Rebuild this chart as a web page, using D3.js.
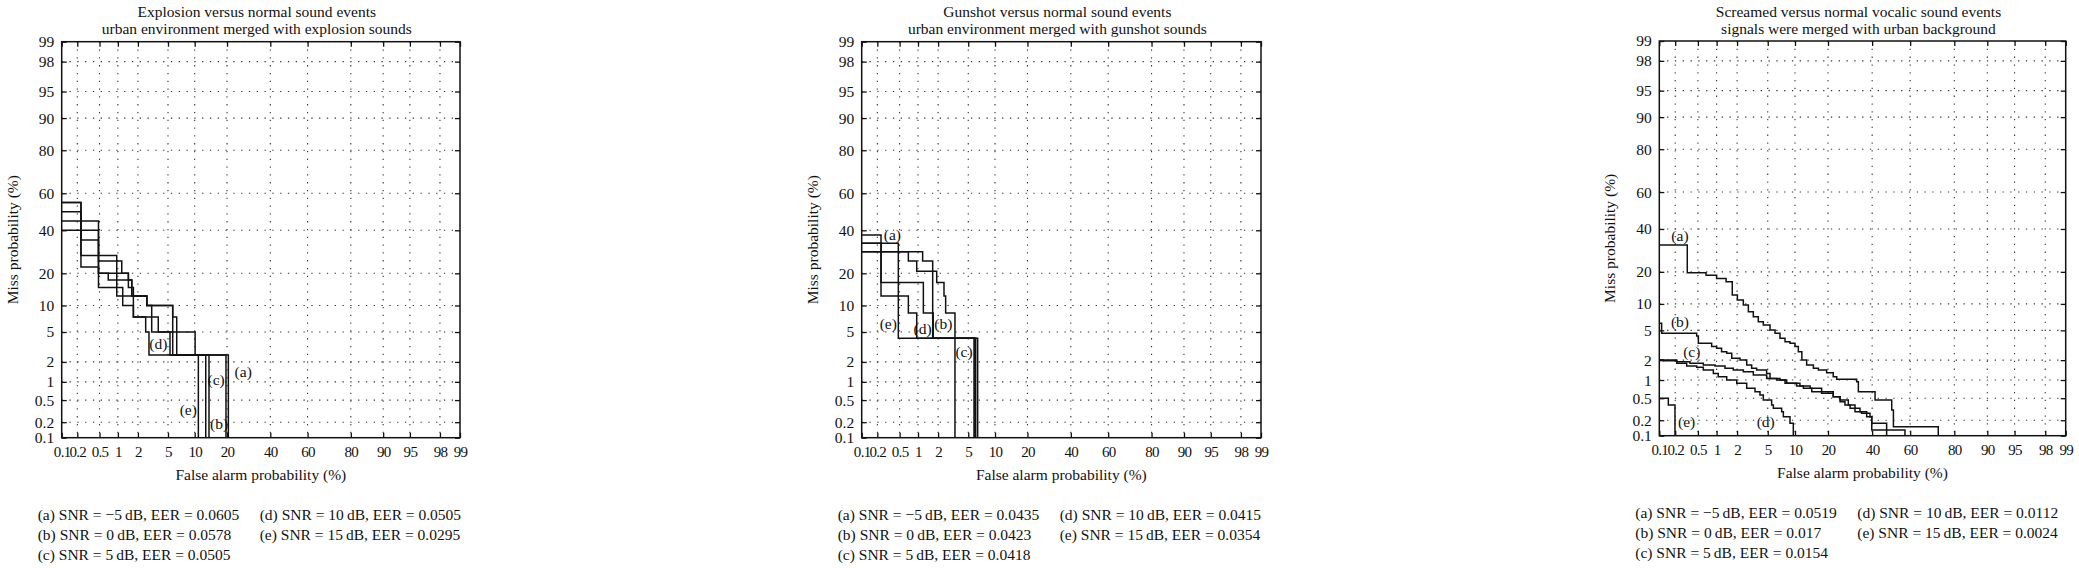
<!DOCTYPE html>
<html>
<head>
<meta charset="utf-8">
<script src="https://cdn.jsdelivr.net/npm/d3@7"></script>
<style>
body { margin: 0; background: #fff; }
svg text { font-family: "Liberation Serif", "DejaVu Serif", serif; fill: #111; }
</style>
</head>
<body>
<script>
var width = 2079;
var height = 568;

// probability ticks, in percent
var probTicks = [0.1, 0.2, 0.5, 1, 2, 5, 10, 20, 40, 60, 80, 90, 95, 98, 99];
var curveNames = ["(a)", "(b)", "(c)", "(d)", "(e)"];
var snrLabels = ["\u22125", "0", "5", "10", "15"];

var titles = [
  ["Explosion versus normal sound events", "urban environment merged with explosion sounds"],
  ["Gunshot versus normal sound events", "urban environment merged with gunshot sounds"],
  ["Screamed versus normal vocalic sound events", "signals were merged with urban background"]
];

var explosionEER = ["0.0605", "0.0578", "0.0505", "0.0505", "0.0295"];
var gunshotEER = ["0.0435", "0.0423", "0.0418", "0.0415", "0.0354"];
var screamEER = ["0.0519", "0.017", "0.0154", "0.0112", "0.0024"];

// DET curves, step points: false alarm % where the step happens, miss % after it
var explosionFA = [
  [0.1, 0.234, 0.96, 2.66, 5.7, 10.1, 20.5],
  [0.1, 0.234, 0.48, 1.45, 1.63, 2.66, 5.7, 6.35, 19.6],
  [0.1, 0.48, 1.15, 1.45, 1.72, 3.78, 5.7, 13.85],
  [0.1, 0.234, 0.48, 0.70, 1.63, 2.66, 3.10, 5.29, 12.9],
  [0.1, 0.48, 1.19, 1.72, 2.57, 2.85, 10.9]
];
var explosionMiss = [
  [50, 27.5, 12.5, 10, 5, 2.5, 0.1],
  [55, 35, 20, 17.5, 12.5, 10, 7.5, 2.5, 0.1],
  [45, 25, 20, 15, 7.5, 5, 2.5, 0.1],
  [55, 22.5, 20, 17.5, 12.5, 10, 5, 2.5, 0.1],
  [40, 15, 10, 7.5, 5, 2.5, 0.1]
];

var gunshotFA = [
  [0.1, 0.234, 1.21, 1.70, 6.46],
  [0.1, 0.70, 0.954, 1.67, 6.13],
  [0.1, 0.475, 5.86],
  [0.1, 0.234, 0.70, 0.954, 6.0],
  [0.1, 1.18, 1.67, 1.91, 2.42, 2.55, 3.40]
];
var gunshotMiss = [
  [37.5, 16.7, 8.33, 4.17, 0.1],
  [29.2, 25, 20.8, 4.17, 0.1],
  [33.3, 4.17, 0.1],
  [33.3, 12.5, 8.33, 4.17, 0.1],
  [29.2, 25, 20.8, 16.7, 12.5, 8.33, 0.1]
];

var screamFA = [
  [0.1, 0.329, 0.68, 1.0, 1.39, 1.71, 2.02, 2.44, 2.85, 3.31, 3.83, 4.42, 5.32, 6.09, 6.92, 7.86, 8.88, 10.0, 10.8, 11.7, 13.0, 15.0, 16.6, 19.5, 22.0, 23.4, 32.3, 33.1, 41.5, 50.3, 51.2, 73.5],
  [0.1, 0.111, 0.477, 0.509, 0.837, 1.0, 1.19, 1.42, 1.68, 2.20, 2.71, 3.15, 3.65, 4.85, 5.32, 6.92, 7.86, 10.4, 12.1, 14.5, 22.0, 24.8, 26.9, 29.2, 31.5, 34.7, 37.2, 39.8, 47.6],
  [0.1, 0.213, 0.367, 0.615, 0.944, 1.34, 1.77, 2.44, 3.31, 4.85, 6.35, 8.19, 11.2, 14.0, 17.7, 22.0, 24.8, 28.4, 31.5, 33.9, 37.2, 38.9, 39.8, 57.3],
  [0.1, 0.12, 0.213, 0.321, 0.477, 0.615, 0.89, 1.06, 1.42, 1.98, 2.71, 3.48, 4.02, 4.42, 5.56, 5.82, 7.22, 7.54, 8.88, 9.61],
  [0.1, 0.149, 0.198]
];
var screamMiss = [
  [31.8, 19.7, 18.7, 17.5, 16.4, 12.3, 10.98, 9.74, 8.26, 7.26, 6.36, 5.81, 5.06, 4.60, 3.97, 3.59, 3.42, 3.09, 2.64, 2.01, 1.70, 1.52, 1.43, 1.30, 1.13, 1.03, 0.94, 0.646, 0.466, 0.31, 0.151, 0.1],
  [6.08, 4.60, 4.25, 3.42, 3.09, 2.93, 2.64, 2.50, 2.13, 2.01, 1.70, 1.52, 1.43, 1.27, 1.06, 1.00, 0.886, 0.80, 0.734, 0.646, 0.532, 0.436, 0.38, 0.332, 0.289, 0.269, 0.233, 0.175, 0.1],
  [2.01, 1.90, 1.80, 1.70, 1.64, 1.52, 1.43, 1.35, 1.20, 1.06, 1.00, 0.886, 0.80, 0.734, 0.605, 0.532, 0.466, 0.38, 0.332, 0.289, 0.269, 0.233, 0.13, 0.1],
  [2.01, 1.97, 1.80, 1.64, 1.57, 1.43, 1.27, 1.13, 1.00, 0.886, 0.734, 0.646, 0.568, 0.466, 0.38, 0.332, 0.289, 0.233, 0.175, 0.1],
  [0.5, 0.38, 0.1]
];

// where the (a)..(e) tags sit, in the same % units
var explosionTagFA = [26.7, 17.1, 16.1, 3.78, 8.56];
var explosionTagMiss = [1.43, 0.185, 1.07, 3.6, 0.344];
var gunshotTagFA = [0.374, 2.37, 4.43, 1.18, 0.317];
var gunshotTagMiss = [37.9, 6.35, 2.78, 5.54, 6.35];
var screamTagFA = [0.244, 0.244, 0.393, 4.73, 0.32];
var screamTagMiss = [36.8, 6.35, 2.64, 0.188, 0.188];

// plot boxes
var panels = [
  {left: 61.7, right: 460, top: 41.7, bottom: 437.7},
  {left: 861.7, right: 1261, top: 41.7, bottom: 437.7},
  {left: 1659.3, right: 2065.7, top: 41, bottom: 435.7}
];

// inverse normal cdf (Acklam)
function probit(p) {
  var a = [-3.969683028665376e+01, 2.209460984245205e+02, -2.759285104469687e+02, 1.383577518672690e+02, -3.066479806614716e+01, 2.506628277459239e+00];
  var b = [-5.447609879822406e+01, 1.615858368580409e+02, -1.556989798598866e+02, 6.680131188771972e+01, -1.328068155288572e+01];
  var c = [-7.784894002430293e-03, -3.223964580411365e-01, -2.400758277161838e+00, -2.549732539343734e+00, 4.374664141464968e+00, 2.938163982698783e+00];
  var d = [7.784695709041462e-03, 3.224671290700398e-01, 2.445134137142996e+00, 3.754408661907416e+00];
  var q, r;
  if (p < 0.02425) {
    q = Math.sqrt(-2 * Math.log(p));
    return (((((c[0]*q+c[1])*q+c[2])*q+c[3])*q+c[4])*q+c[5]) / ((((d[0]*q+d[1])*q+d[2])*q+d[3])*q+1);
  }
  if (p > 1 - 0.02425) {
    q = Math.sqrt(-2 * Math.log(1 - p));
    return -(((((c[0]*q+c[1])*q+c[2])*q+c[3])*q+c[4])*q+c[5]) / ((((d[0]*q+d[1])*q+d[2])*q+d[3])*q+1);
  }
  q = p - 0.5; r = q * q;
  return (((((a[0]*r+a[1])*r+a[2])*r+a[3])*r+a[4])*r+a[5])*q / (((((b[0]*r+b[1])*r+b[2])*r+b[3])*r+b[4])*r+1);
}

// a normal-deviate scale d3.axis can use
function detScale(range) {
  var lin = d3.scaleLinear().domain([probit(0.001), probit(0.99)]).range(range);
  var s = function(v) { return lin(probit(v / 100)); };
  s.range = function() { return lin.range(); };
  s.domain = function() { return [0.1, 99]; };
  s.copy = function() { return detScale(range); };
  return s;
}

var svg = d3.select("body").append("svg")
  .attr("width", width)
  .attr("height", height);

function drawPanel(i, fa, miss, tagFA, tagMiss, eer) {
  var p = panels[i];
  var x = detScale([p.left, p.right]);
  var y = detScale([p.bottom, p.top]);
  var g = svg.append("g");
  var grid = probTicks.slice(1, -1);

  g.append("clipPath").attr("id", "clip" + i)
    .append("rect")
    .attr("x", p.left).attr("y", p.top)
    .attr("width", p.right - p.left).attr("height", p.bottom - p.top);

  g.selectAll(".vgrid").data(grid).enter().append("line")
    .attr("x1", d => x(d)).attr("x2", d => x(d))
    .attr("y1", p.top).attr("y2", p.bottom)
    .attr("stroke", "#333").attr("stroke-width", 1.1)
    .attr("stroke-dasharray", "1.3,6.5");
  g.selectAll(".hgrid").data(grid).enter().append("line")
    .attr("y1", d => y(d)).attr("y2", d => y(d))
    .attr("x1", p.left).attr("x2", p.right)
    .attr("stroke", "#333").attr("stroke-width", 1.1)
    .attr("stroke-dasharray", "1.3,6.5");

  var line = d3.line()
    .x(d => x(d[0]))
    .y(d => y(d[1]))
    .curve(d3.curveStepAfter);

  g.append("g").attr("clip-path", "url(#clip" + i + ")")
    .selectAll("path").data(fa).enter().append("path")
    .attr("d", (f, k) => line(d3.zip(f, miss[k])))
    .attr("fill", "none")
    .attr("stroke", "#111")
    .attr("stroke-width", 1.5);

  // axes, ticks pointing in on every side
  var bottomAxis = g.append("g").attr("transform", "translate(0," + p.bottom + ")")
    .call(d3.axisBottom(x).tickValues(probTicks).tickSizeInner(-5).tickSizeOuter(0).tickPadding(9).tickFormat(d3.format("")));
  var leftAxis = g.append("g").attr("transform", "translate(" + p.left + ",0)")
    .call(d3.axisLeft(y).tickValues(probTicks).tickSizeInner(-5).tickSizeOuter(0).tickPadding(7.5).tickFormat(d3.format("")));
  var topAxis = g.append("g").attr("transform", "translate(0," + p.top + ")")
    .call(d3.axisTop(x).tickValues(probTicks).tickSizeInner(-5).tickSizeOuter(0).tickFormat(""));
  var rightAxis = g.append("g").attr("transform", "translate(" + p.right + ",0)")
    .call(d3.axisRight(y).tickValues(probTicks).tickSizeInner(-5).tickSizeOuter(0).tickFormat(""));

  [bottomAxis, leftAxis, topAxis, rightAxis].forEach(function(a) {
    a.select(".domain").remove();
    a.selectAll("line").attr("stroke", "#111").attr("stroke-width", 1.3);
    a.selectAll("text").attr("font-size", 15.5).attr("font-family", "Liberation Serif").attr("fill", "#111");
  });
  // the low x labels sit tight together
  bottomAxis.selectAll("text").attr("font-size", 15).attr("letter-spacing", "-0.7px");

  g.append("rect")
    .attr("x", p.left).attr("y", p.top)
    .attr("width", p.right - p.left).attr("height", p.bottom - p.top)
    .attr("fill", "none").attr("stroke", "#111").attr("stroke-width", 1.5);

  g.selectAll(".tag").data(curveNames).enter().append("text")
    .attr("x", (d, k) => x(tagFA[k]))
    .attr("y", (d, k) => y(tagMiss[k]))
    .attr("dy", "0.35em")
    .attr("text-anchor", "middle")
    .attr("font-size", 15.5)
    .text(d => d);

  var cx = (p.left + p.right) / 2 - 4;
  g.selectAll(".title").data(titles[i]).enter().append("text")
    .attr("x", cx)
    .attr("y", (d, k) => 17 + k * 16.5)
    .attr("text-anchor", "middle")
    .attr("font-size", 15.5)
    .text(d => d);

  g.append("text")
    .attr("x", (p.left + p.right) / 2)
    .attr("y", p.bottom + 42)
    .attr("text-anchor", "middle")
    .attr("font-size", 15.5)
    .text("False alarm probability (%)");

  g.append("text")
    .attr("transform", "translate(" + (p.left - 44) + "," + ((p.top + p.bottom) / 2) + ") rotate(-90)")
    .attr("text-anchor", "middle")
    .attr("font-size", 15.5)
    .text("Miss probability (%)");

  g.selectAll(".legend").data(curveNames).enter().append("text")
    .attr("x", (d, k) => k < 3 ? p.left - 24 : p.left + 198)
    .attr("y", (d, k) => p.bottom + 82 + (k % 3) * 20)
    .attr("font-size", 15.5)
    .text((d, k) => d + " SNR = " + snrLabels[k] + "\u2009dB, EER = " + eer[k]);
}

drawPanel(0, explosionFA, explosionMiss, explosionTagFA, explosionTagMiss, explosionEER);
drawPanel(1, gunshotFA, gunshotMiss, gunshotTagFA, gunshotTagMiss, gunshotEER);
drawPanel(2, screamFA, screamMiss, screamTagFA, screamTagMiss, screamEER);
</script>
</body>
</html>
